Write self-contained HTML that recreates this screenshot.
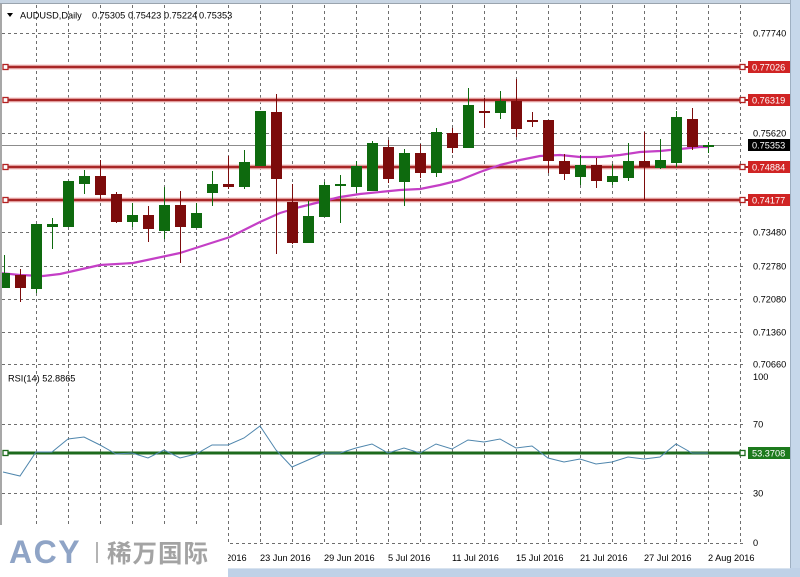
<!DOCTYPE html>
<html><head><meta charset="utf-8"><style>
html,body{margin:0;padding:0;background:#fff;width:800px;height:577px;overflow:hidden}
svg{display:block}
text{font-family:"Liberation Sans",sans-serif;font-size:9.2px;fill:#000}
</style></head><body>
<svg width="800" height="577" viewBox="0 0 800 577" xmlns="http://www.w3.org/2000/svg">
<defs><clipPath id="c"><rect x="2" y="4" width="740" height="540"/></clipPath></defs>
<rect width="800" height="577" fill="#fff"/>
<!-- frame -->
<rect x="0" y="0" width="800" height="3" fill="#c8d5e3"/>
<line x1="0" y1="3.5" x2="790" y2="3.5" stroke="#9aa4ae"/>
<rect x="790" y="0" width="10" height="577" fill="#c6d7ea"/>
<line x1="790.5" y1="0" x2="790.5" y2="577" stroke="#9fb0c2"/>
<rect x="0" y="568" width="800" height="9" fill="#bfd1e7"/>
<line x1="0" y1="568.5" x2="790" y2="568.5" stroke="#d8e3ef"/>
<line x1="1" y1="4" x2="1" y2="545" stroke="#8a8a8a" stroke-width="1.5"/>

<!-- vertical grid -->
<g stroke="#6e6e6e" stroke-width="1" stroke-dasharray="3,3" shape-rendering="crispEdges">
<path d="M36.5 5V543M68.5 5V543M100.5 5V543M132.5 5V543M164.5 5V543M196.5 5V543M228.5 5V543M260.5 5V543M292.5 5V543M324.5 5V543M356.5 5V543M388.5 5V543M420.5 5V543M452.5 5V543M484.5 5V543M516.5 5V543M548.5 5V543M580.5 5V543M612.5 5V543M644.5 5V543M676.5 5V543M708.5 5V543M740.5 5V543"/>
<path d="M2 33.5H746M2 133.5H746M2 232.5H746M2 266.5H746M2 299.5H746M2 332.5H746M2 364.5H746M2 424.5H746M2 493.5H746M2 543.5H746"/>
</g>

<!-- current price line -->
<line x1="2" y1="145.5" x2="742" y2="145.5" stroke="#8c8c8c" stroke-width="1"/>

<!-- red lines -->
<g>
<path d="M4 67H744M4 100H744M4 167H744M4 200H744" stroke="#f3c3c3" stroke-width="5"/>
<path d="M4 67H744M4 100H744M4 167H744M4 200H744" stroke="#a82626" stroke-width="2.4"/>
<g fill="#fff" stroke="#b22222" stroke-width="1.3">
<rect x="3" y="64.5" width="5" height="5"/><rect x="740" y="64.5" width="5" height="5"/>
<rect x="3" y="97.5" width="5" height="5"/><rect x="740" y="97.5" width="5" height="5"/>
<rect x="3" y="164.5" width="5" height="5"/><rect x="740" y="164.5" width="5" height="5"/>
<rect x="3" y="197.5" width="5" height="5"/><rect x="740" y="197.5" width="5" height="5"/>
</g>
<path d="M745 67H748M745 100H748M745 167H748M745 200H748" stroke="#b22222" stroke-width="2"/>
</g>

<!-- MA -->
<polyline fill="none" stroke="#c43fc6" stroke-width="2.2" stroke-linejoin="round" clip-path="url(#c)" points="0,273 20,275 43,276 60,274 100,265 133,263 180,253 230,237 240,232 260,222 280,213 300,207 320,202 340,197 360,194 400,190 420,189 440,185 460,180 480,172 500,165 520,160 540,156 560,155 580,157 600,157 620,155 640,152 660,151 680,149 700,147 708,147"/>

<!-- candles -->
<g clip-path="url(#c)" shape-rendering="crispEdges">
<g fill="#0e6a0e" stroke="#0e6a0e">
<line x1="4.5" y1="255" x2="4.5" y2="288"/><rect x="-1" y="273" width="11" height="15" stroke="none"/>
<line x1="36.5" y1="224" x2="36.5" y2="293"/><rect x="31" y="224" width="11" height="65" stroke="none"/>
<line x1="52.5" y1="218" x2="52.5" y2="249"/><rect x="47" y="224" width="11" height="3" stroke="none"/>
<rect x="63" y="181" width="11" height="46" stroke="none"/>
<line x1="84.5" y1="170" x2="84.5" y2="194"/><rect x="79" y="176" width="11" height="8" stroke="none"/>
<line x1="132.5" y1="203" x2="132.5" y2="227"/><rect x="127" y="215" width="11" height="7" stroke="none"/>
<line x1="164.5" y1="187" x2="164.5" y2="239"/><rect x="159" y="205" width="11" height="26" stroke="none"/>
<line x1="196.5" y1="203" x2="196.5" y2="228"/><rect x="191" y="213" width="11" height="15" stroke="none"/>
<line x1="212.5" y1="171" x2="212.5" y2="206"/><rect x="207" y="184" width="11" height="9" stroke="none"/>
<line x1="244.5" y1="150" x2="244.5" y2="189"/><rect x="239" y="162" width="11" height="25" stroke="none"/>
<rect x="255" y="111" width="11" height="55" stroke="none"/>
<line x1="308.5" y1="201" x2="308.5" y2="243"/><rect x="303" y="216" width="11" height="27" stroke="none"/>
<line x1="324.5" y1="182" x2="324.5" y2="217"/><rect x="319" y="185" width="11" height="32" stroke="none"/>
<line x1="340.5" y1="175" x2="340.5" y2="223"/><rect x="335" y="184" width="11" height="2" stroke="none"/>
<line x1="356.5" y1="161" x2="356.5" y2="193"/><rect x="351" y="166" width="11" height="21" stroke="none"/>
<line x1="372.5" y1="141" x2="372.5" y2="191"/><rect x="367" y="143" width="11" height="48" stroke="none"/>
<line x1="404.5" y1="149" x2="404.5" y2="206"/><rect x="399" y="153" width="11" height="29" stroke="none"/>
<line x1="436.5" y1="128" x2="436.5" y2="177"/><rect x="431" y="132" width="11" height="41" stroke="none"/>
<line x1="468.5" y1="88" x2="468.5" y2="148"/><rect x="463" y="105" width="11" height="43" stroke="none"/>
<line x1="500.5" y1="91" x2="500.5" y2="119"/><rect x="495" y="101" width="11" height="12" stroke="none"/>
<line x1="580.5" y1="155" x2="580.5" y2="185"/><rect x="575" y="165" width="11" height="12" stroke="none"/>
<line x1="612.5" y1="164" x2="612.5" y2="185"/><rect x="607" y="176" width="11" height="6" stroke="none"/>
<line x1="628.5" y1="143" x2="628.5" y2="181"/><rect x="623" y="161" width="11" height="17" stroke="none"/>
<line x1="660.5" y1="139" x2="660.5" y2="169"/><rect x="655" y="160" width="11" height="8" stroke="none"/>
<line x1="676.5" y1="111" x2="676.5" y2="167"/><rect x="671" y="117" width="11" height="46" stroke="none"/>
<line x1="708.5" y1="142" x2="708.5" y2="153"/><rect x="703" y="145" width="11" height="2" stroke="none"/>
</g>
<g fill="#7c0b0b" stroke="#7c0b0b">
<line x1="20.5" y1="269" x2="20.5" y2="302"/><rect x="15" y="275" width="11" height="13" stroke="none"/>
<line x1="100.5" y1="160" x2="100.5" y2="199"/><rect x="95" y="176" width="11" height="19" stroke="none"/>
<line x1="116.5" y1="192" x2="116.5" y2="223"/><rect x="111" y="194" width="11" height="28" stroke="none"/>
<line x1="148.5" y1="206" x2="148.5" y2="242"/><rect x="143" y="215" width="11" height="14" stroke="none"/>
<line x1="180.5" y1="191" x2="180.5" y2="263"/><rect x="175" y="205" width="11" height="22" stroke="none"/>
<line x1="228.5" y1="156" x2="228.5" y2="189"/><rect x="223" y="184" width="11" height="3" stroke="none"/>
<line x1="276.5" y1="94" x2="276.5" y2="254"/><rect x="271" y="112" width="11" height="67" stroke="none"/>
<line x1="292.5" y1="184" x2="292.5" y2="244"/><rect x="287" y="202" width="11" height="41" stroke="none"/>
<line x1="388.5" y1="140" x2="388.5" y2="183"/><rect x="383" y="147" width="11" height="32" stroke="none"/>
<line x1="420.5" y1="144" x2="420.5" y2="178"/><rect x="415" y="153" width="11" height="20" stroke="none"/>
<line x1="452.5" y1="128" x2="452.5" y2="153"/><rect x="447" y="133" width="11" height="15" stroke="none"/>
<line x1="484.5" y1="98" x2="484.5" y2="128"/><rect x="479" y="111" width="11" height="2" stroke="none"/>
<line x1="516.5" y1="79" x2="516.5" y2="137"/><rect x="511" y="101" width="11" height="28" stroke="none"/>
<line x1="532.5" y1="112" x2="532.5" y2="127"/><rect x="527" y="120" width="11" height="2" stroke="none"/>
<line x1="548.5" y1="120" x2="548.5" y2="173"/><rect x="543" y="120" width="11" height="41" stroke="none"/>
<line x1="564.5" y1="154" x2="564.5" y2="180"/><rect x="559" y="161" width="11" height="13" stroke="none"/>
<line x1="596.5" y1="158" x2="596.5" y2="188"/><rect x="591" y="165" width="11" height="16" stroke="none"/>
<line x1="644.5" y1="132" x2="644.5" y2="200"/><rect x="639" y="161" width="11" height="6" stroke="none"/>
<line x1="692.5" y1="108" x2="692.5" y2="150"/><rect x="687" y="119" width="11" height="28" stroke="none"/>
</g>
</g>

<!-- RSI -->
<path d="M4 453H744" stroke="#1d6a1d" stroke-width="3"/>
<rect x="3" y="450.5" width="5" height="5" fill="#fff" stroke="#1d6a1d" stroke-width="1.3"/>
<rect x="740" y="450.5" width="5" height="5" fill="#fff" stroke="#1d6a1d" stroke-width="1.3"/>
<polyline fill="none" stroke="#4f86ad" stroke-width="1" points="3,472 20,476 36,452 52,452 68,439 84,437 100,445 116,454 132,453 148,458 164,450 180,458 196,454 212,445 228,445 244,438 260,426 276,450 292,467 308,460 324,453 340,453 356,448 372,444 388,453 404,448 420,453 436,444 452,449 468,440 484,442 500,439 516,448 532,446 548,458 564,462 580,459 596,464 612,462 628,457 644,459 660,457 676,444 692,453 708,453"/>

<!-- header -->
<path d="M7 13H13L10 17Z" fill="#000"/>
<text x="20" y="18.5">AUDUSD,Daily</text>
<text x="92" y="18.5">0.75305</text>
<text x="128" y="18.5">0.75423</text>
<text x="164" y="18.5">0.75224</text>
<text x="199" y="18.5">0.75353</text>
<text x="8" y="381.5">RSI(14) 52.8865</text>

<!-- right scale -->
<g>
<text x="753" y="36.5">0.77740</text>
<text x="753" y="136.5">0.75620</text>
<text x="753" y="235.5">0.73480</text>
<text x="753" y="269.5">0.72780</text>
<text x="753" y="302.5">0.72080</text>
<text x="753" y="335.5">0.71360</text>
<text x="753" y="367.5">0.70660</text>
<text x="753" y="380">100</text>
<text x="753" y="427.5">70</text>
<text x="753" y="496.5">30</text>
<text x="753" y="546">0</text>
</g>
<g shape-rendering="crispEdges">
<rect x="748" y="61" width="42" height="12" fill="#d02424"/>
<rect x="748" y="94" width="42" height="12" fill="#d02424"/>
<rect x="748" y="161" width="42" height="12" fill="#d02424"/>
<rect x="748" y="194" width="42" height="12" fill="#d02424"/>
<rect x="748" y="139" width="42" height="12" fill="#000"/>
<rect x="748" y="447" width="42" height="12" fill="#1c7a1c"/>
</g>
<g style="fill:#fff">
<text x="752" y="70.5" style="fill:#fff">0.77026</text>
<text x="752" y="103.5" style="fill:#fff">0.76319</text>
<text x="752" y="170.5" style="fill:#fff">0.74884</text>
<text x="752" y="203.5" style="fill:#fff">0.74177</text>
<text x="752" y="148.5" style="fill:#fff">0.75353</text>
<text x="752" y="456.5" style="fill:#fff">53.3708</text>
</g>

<!-- dates -->
<g>
<text x="196" y="561">17 Jun 2016</text>
<text x="260" y="561">23 Jun 2016</text>
<text x="324" y="561">29 Jun 2016</text>
<text x="388" y="561">5 Jul 2016</text>
<text x="452" y="561">11 Jul 2016</text>
<text x="516" y="561">15 Jul 2016</text>
<text x="580" y="561">21 Jul 2016</text>
<text x="644" y="561">27 Jul 2016</text>
<text x="708" y="561">2 Aug 2016</text>
</g>

<!-- logo -->
<rect x="0" y="525" width="228" height="52" fill="#fff"/>
<text x="9" y="563" style="font-family:'Liberation Sans',sans-serif;font-size:32px;font-weight:bold;fill:#8fa4c6;letter-spacing:1.5px">ACY</text>
<rect x="96" y="542" width="2" height="21" fill="#b4b4b4"/>
<text x="107" y="562" style="font-family:'Liberation Sans','Noto Sans CJK SC',sans-serif;font-size:24.5px;font-weight:bold;fill:#a3a3a3;letter-spacing:1px">稀万国际</text>
</svg>
</body></html>
